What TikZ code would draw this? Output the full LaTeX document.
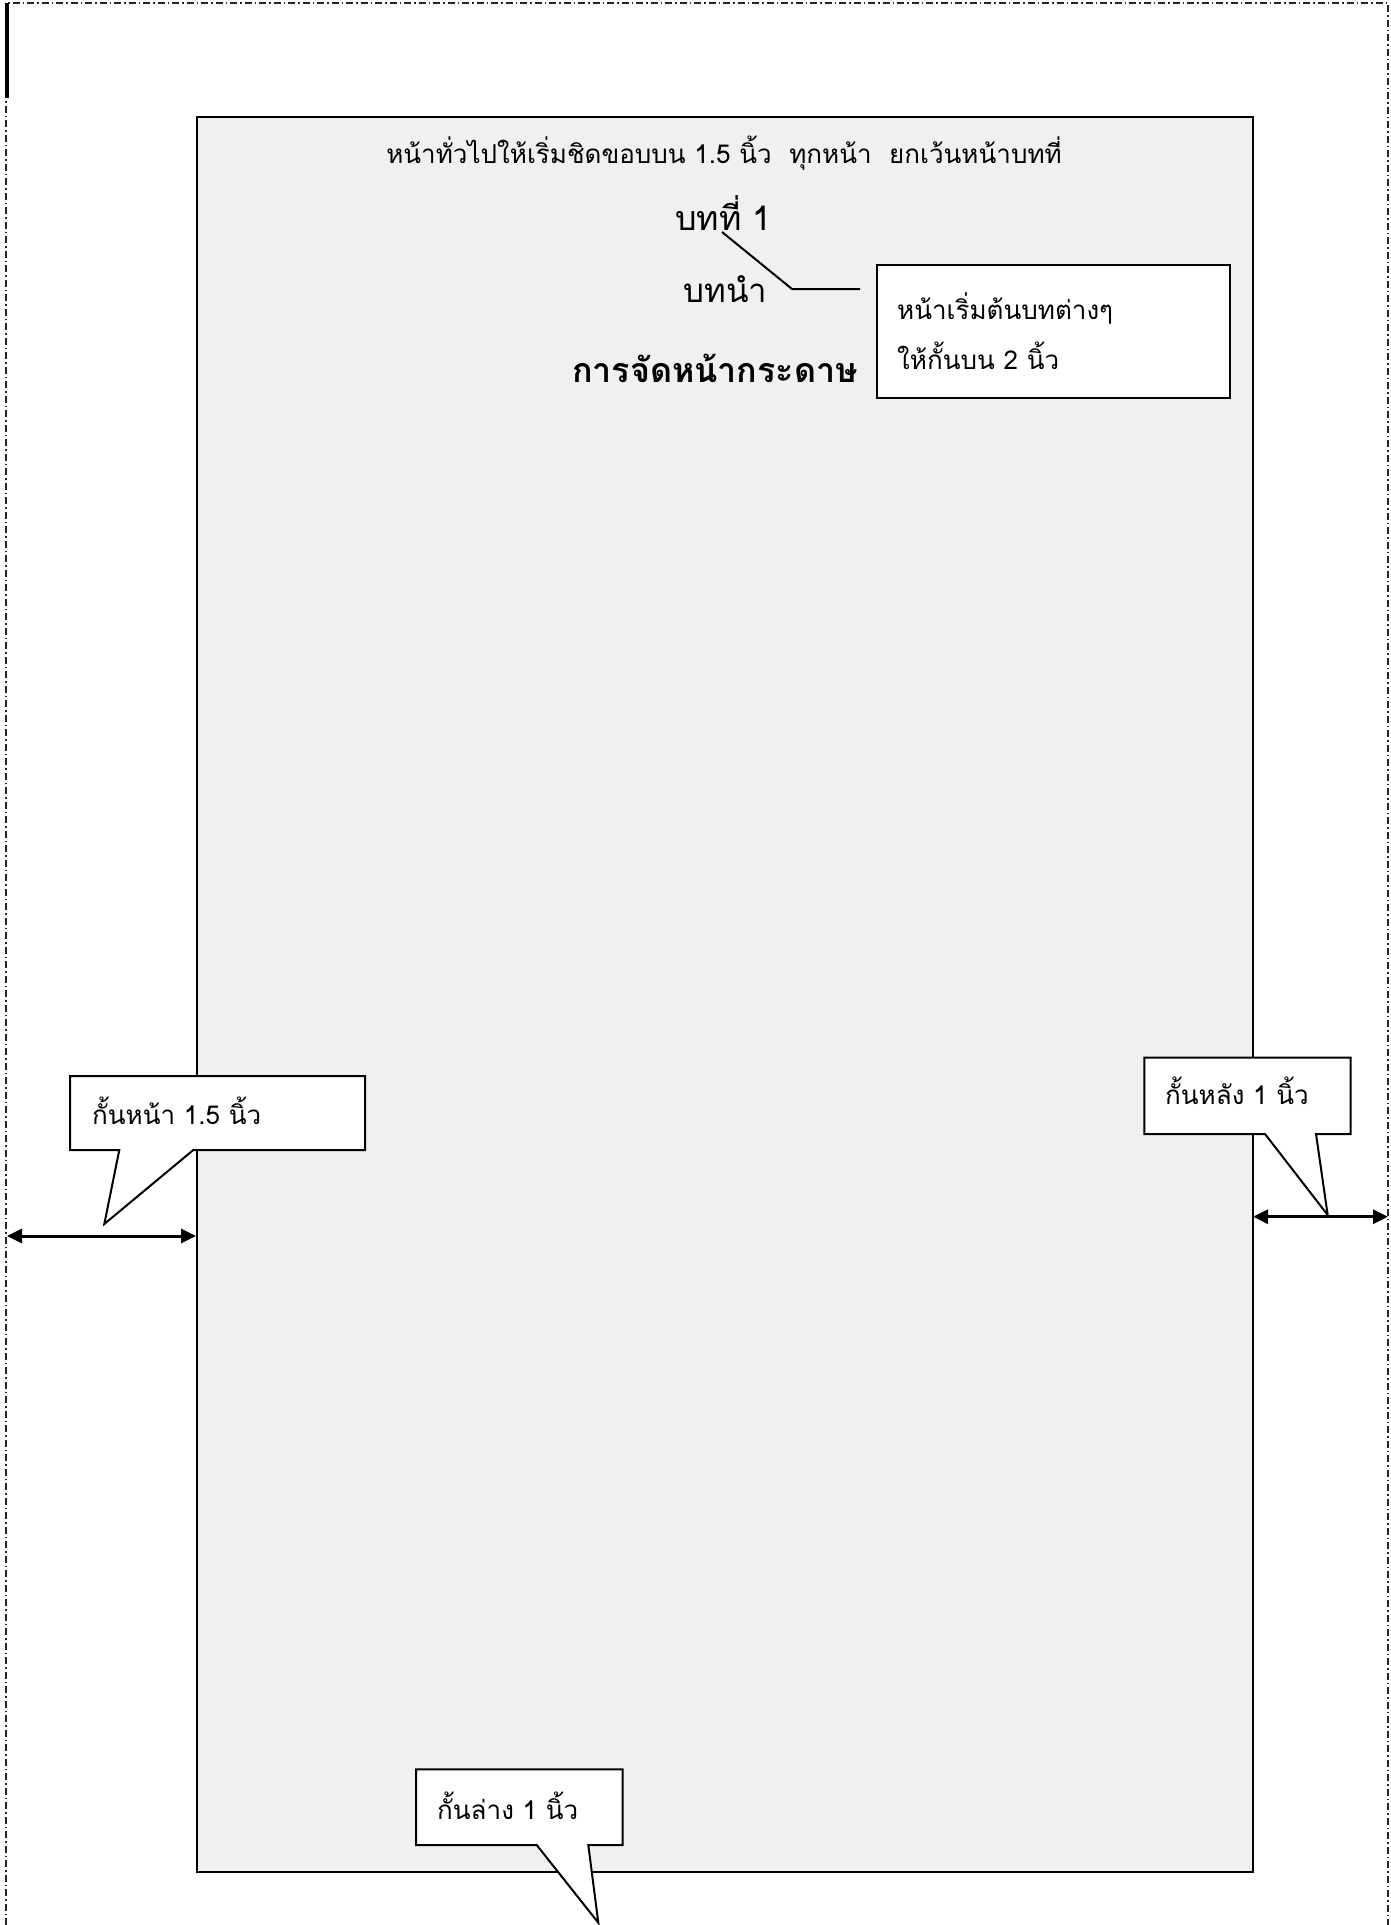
\documentclass[tikz,border=0pt]{standalone}
\usepackage{fontspec}
\newfontfamily\thai[Script=Thai]{Loma}
\usetikzlibrary{arrows.meta}
\definecolor{pagegray}{HTML}{F0F0F0}
\begin{document}
\begin{tikzpicture}[x=1pt,y=-1pt,
  txt/.style={inner sep=0pt,font=\thai\fontsize{#1}{#1}\selectfont},
  txt/.default=24,
  callout/.style={draw=black,line width=2pt,fill=white,line join=miter},
  dim/.style={line width=3pt,{Triangle[length=15pt,width=14pt]}-{Triangle[length=15pt,width=14pt]}},
  frame/.style={line width=1.3pt,draw=black!85,dash pattern=on 7pt off 3pt on 1.5pt off 3pt}]
\useasboundingbox (0,0) rectangle (1390,1925);
% outer frame
\draw[frame] (6,1925) -- (6,3) -- (1388,3) -- (1388,1925);
\fill[black] (5,3) rectangle (9,98);
% page
\draw[fill=pagegray,line width=2pt] (196.5,116.5) rectangle (1253,1871.5);
% top texts
\node[txt=26,anchor=base] (t1) at (724,163) {หน้าทั่วไปให้เริ่มชิดขอบบน 1.5 นิ้ว\ \ ทุกหน้า\ \ ยกเว้นหน้าบทที่};
\node[txt=34,anchor=base] (ch) at (723.5,230) {บทที่ 1};
\node[txt=33,anchor=base] (intro) at (725.5,302) {บทนำ};
\node[inner sep=0pt,anchor=base,font=\thai\bfseries\fontsize{34}{34}\selectfont] (title) at (715,382) {การจัดหน้ากระดาษ};
% top callout box
\draw[callout] (877,265) rectangle (1230,398);
\node[txt=26,anchor=base west] (b1) at (897,319) {หน้าเริ่มต้นบทต่างๆ};
\node[txt=26,anchor=base west] (b2) at (897,369) {ให้กั้นบน 2 นิ้ว};
\coordinate (c1) at (722,232);
\coordinate (c2) at (792,289);
\coordinate (c3) at (860,289);
\draw[line width=2pt] (c1) -- (c2) -- (c3);
% left callout
\draw[callout] (70,1076) -- (365,1076) -- (365,1150) -- (193.3,1150) -- (104.3,1224) -- (119.3,1150) -- (70,1150) -- cycle;
\node[txt=26,anchor=base west] (lt) at (92,1124) {กั้นหน้า 1.5 นิ้ว};
\coordinate (la) at (7,1236);
\coordinate (lb) at (196,1236);
\draw[dim] (la) -- (lb);
% right callout
\draw[callout] (1144.3,1057.7) -- (1350.7,1057.7) -- (1350.7,1134) -- (1316,1134) -- (1327.7,1215) -- (1265,1134) -- (1144.3,1134) -- cycle;
\node[txt=26,anchor=base west] (rt) at (1165,1104) {กั้นหลัง 1 นิ้ว};
\coordinate (ra) at (1253,1216.7);
\coordinate (rb) at (1388,1216.7);
\draw[dim] (ra) -- (rb);
% bottom callout
\draw[callout] (416,1769.3) -- (622.7,1769.3) -- (622.7,1845) -- (588.3,1845) -- (598.3,1922.7) -- (536.7,1845) -- (416,1845) -- cycle;
\node[txt=26,anchor=base west] (bt) at (437,1819) {กั้นล่าง 1 นิ้ว};
\end{tikzpicture}
\end{document}
